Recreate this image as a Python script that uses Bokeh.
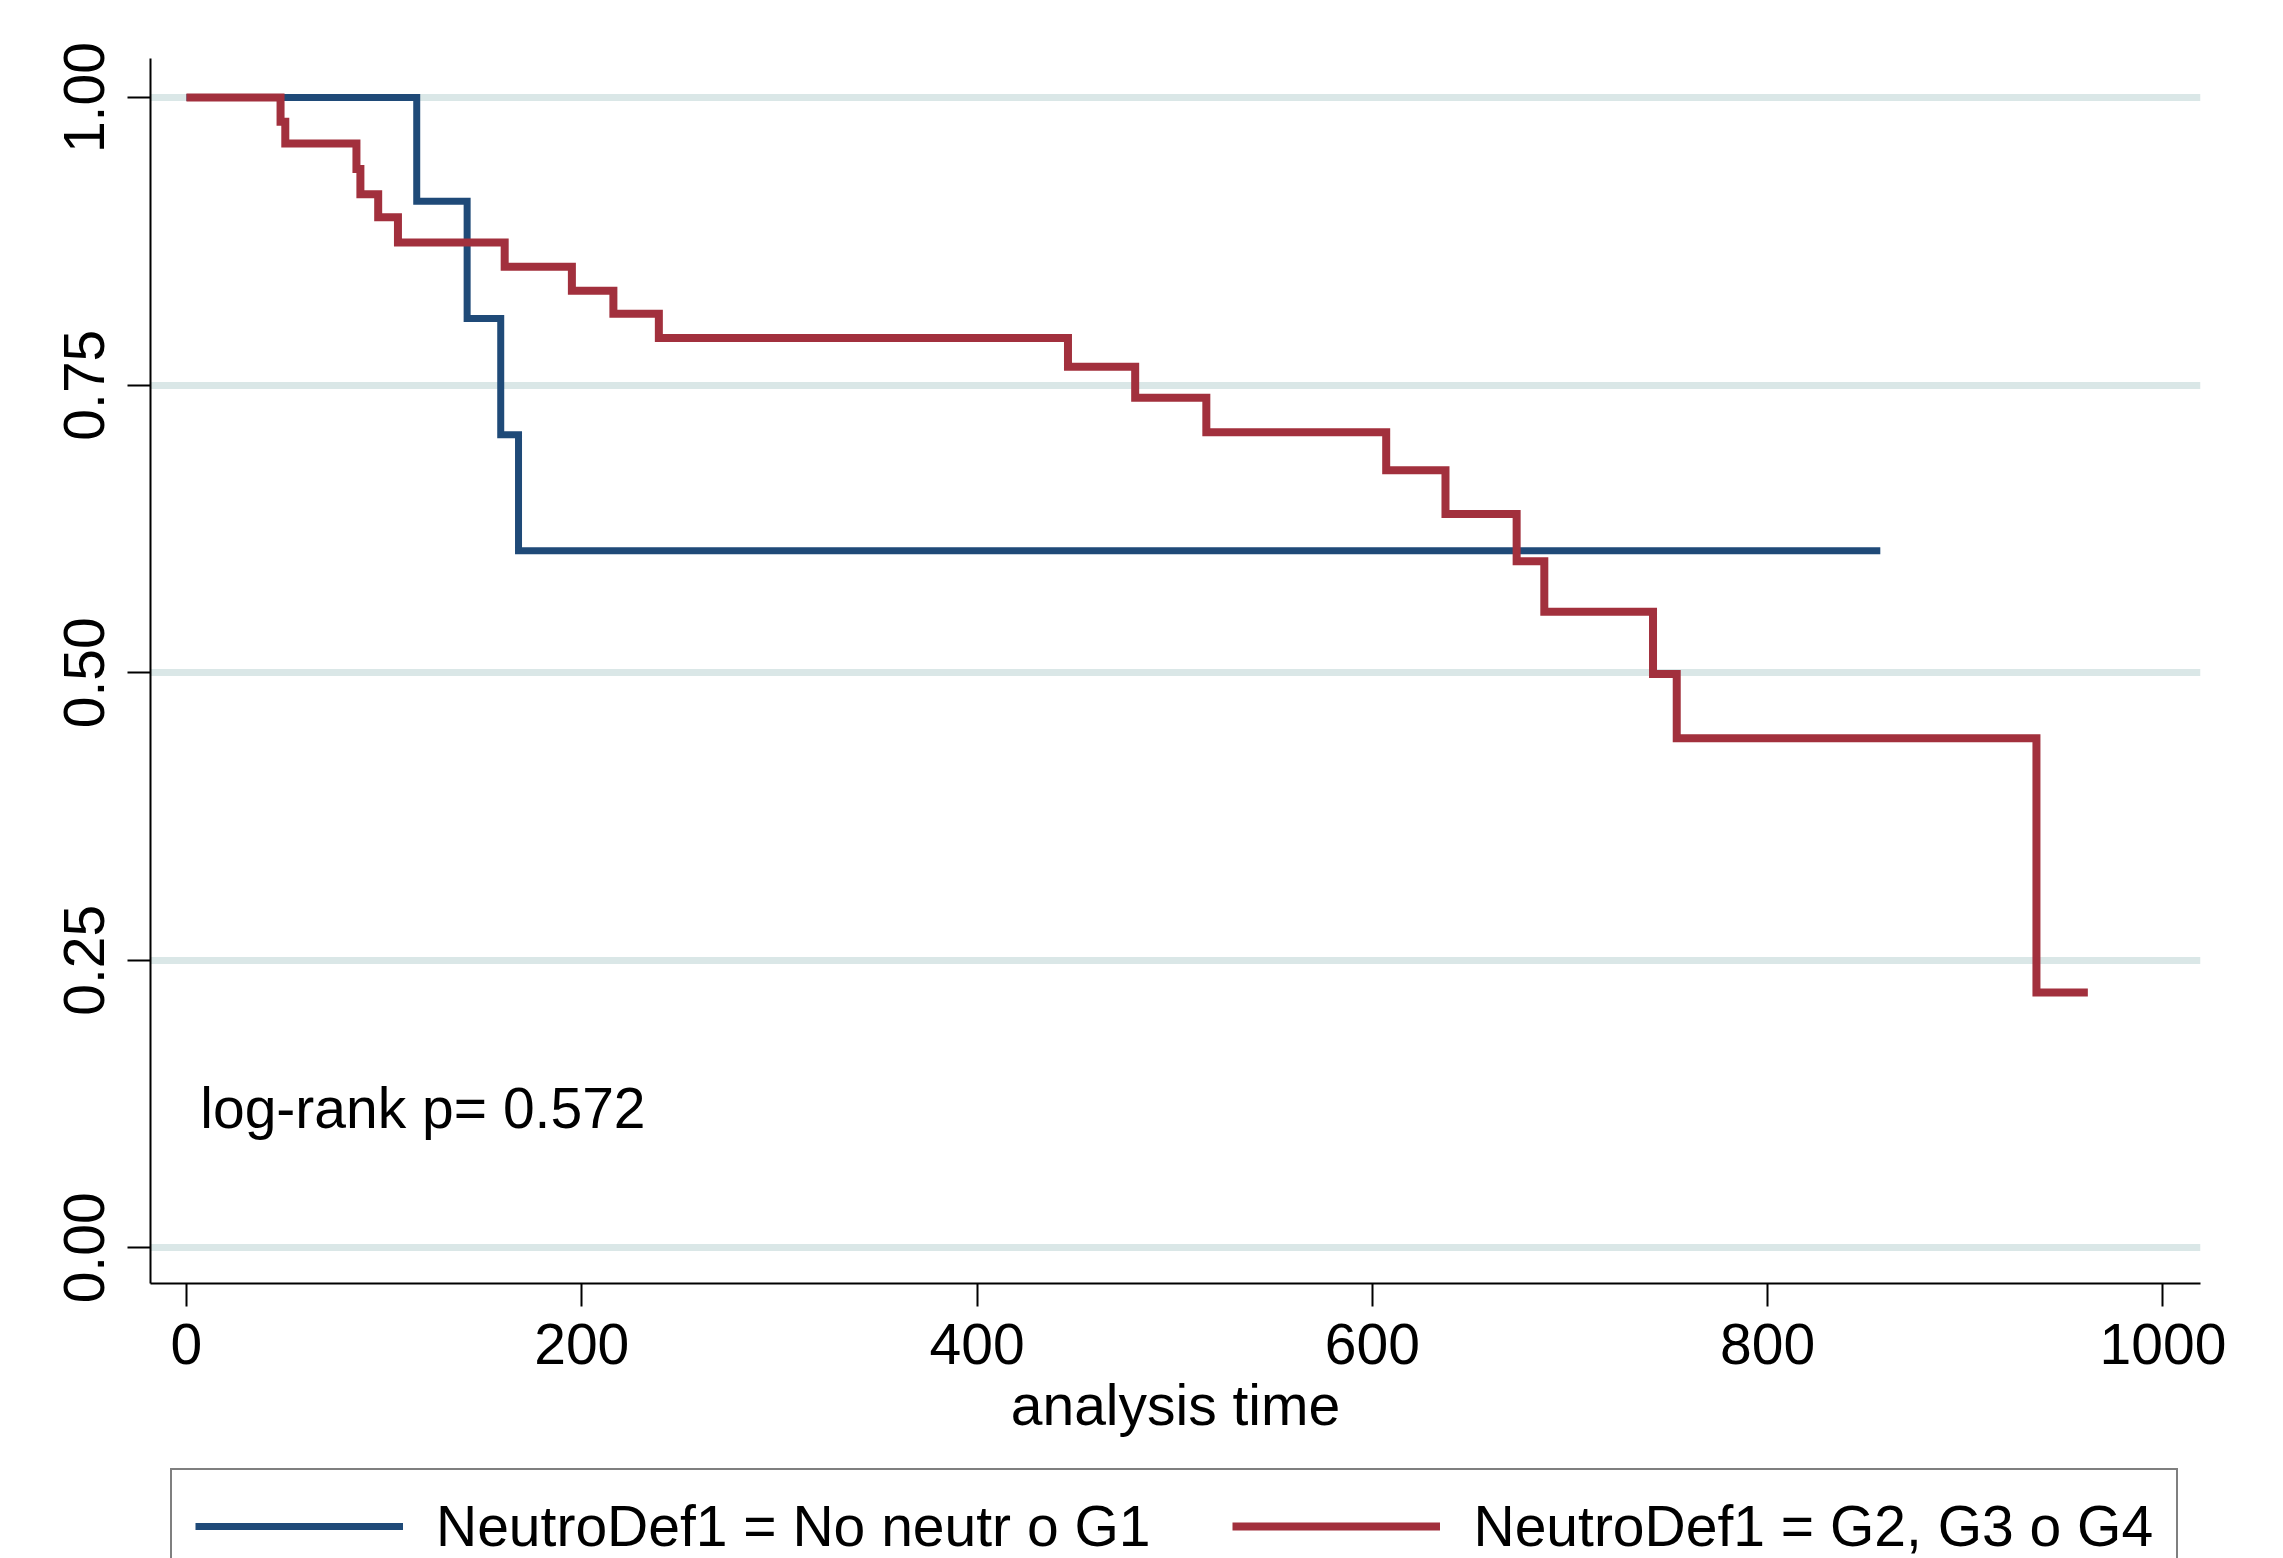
from bokeh.plotting import figure
from bokeh.layouts import column
from bokeh.models import (Range1d, FixedTicker, Legend, LegendItem, Label,
                          NumeralTickFormatter)
from bokeh.embed import file_html
from bokeh.resources import INLINE

# ---- data (Kaplan-Meier step curves) ----
blue_label = "NeutroDef1 = No neutr o G1"
blue_t = [0, 116.5, 142, 159, 168, 857]
blue_s = [1.0, 0.910, 0.808, 0.707, 0.606, 0.606]

red_label = "NeutroDef1 = G2, G3 o G4"
red_t = [0, 47.6, 50, 86, 88, 97, 107, 161, 195, 216, 239,
         446, 480, 516, 607, 637, 673, 687, 742, 754, 936, 962]
red_s = [1.0, 0.979, 0.960, 0.938, 0.916, 0.896, 0.874, 0.853, 0.832, 0.812, 0.791,
         0.766, 0.739, 0.709, 0.676, 0.638, 0.597, 0.553, 0.499, 0.443, 0.222, 0.222]

x_ticks = [0, 200, 400, 600, 800, 1000]
y_ticks = [0.0, 0.25, 0.50, 0.75, 1.0]
x_title = "analysis time"
annot_text = "log-rank p= 0.572"

FONT = "Liberation Sans"
BLUE = "#1f4a78"
RED = "#a2303d"
GRID = "#dae7e7"

W = 2283
H_MAIN = 1464
H_LEG = 1558 - H_MAIN

p = figure(width=W, height=H_MAIN, output_backend="svg", toolbar_location=None,
           x_range=Range1d(-18.2, 1019), y_range=Range1d(-0.031, 1.034),
           min_border_left=150, min_border_right=83, min_border_top=58,
           min_border_bottom=H_MAIN - 1283)
p.outline_line_color = None
p.background_fill_color = "white"
p.border_fill_color = "white"

# grids
p.xgrid.visible = False
p.ygrid.ticker = FixedTicker(ticks=y_ticks)
p.ygrid.grid_line_color = GRID
p.ygrid.grid_line_width = 7

# axes
for ax in (p.xaxis[0], p.yaxis[0]):
    ax.axis_line_color = "black"
    ax.axis_line_width = 2
    ax.major_tick_line_color = "black"
    ax.major_tick_line_width = 2
    ax.major_tick_out = 23
    ax.major_tick_in = 0
    ax.minor_tick_line_color = None
    ax.major_label_text_font = FONT
    ax.major_label_text_font_size = "57px"
    ax.major_label_text_color = "black"
    ax.axis_label_text_font = FONT
    ax.axis_label_text_font_size = "57px"
    ax.axis_label_text_font_style = "normal"
    ax.axis_label_text_color = "black"

p.xaxis[0].ticker = FixedTicker(ticks=x_ticks)
p.xaxis[0].axis_label = x_title
p.xaxis[0].major_label_standoff = 17
p.xaxis[0].axis_label_standoff = 6
p.yaxis[0].ticker = FixedTicker(ticks=y_ticks)
p.yaxis[0].formatter = NumeralTickFormatter(format="0.00")
p.yaxis[0].major_label_orientation = "vertical"
p.yaxis[0].major_label_standoff = 23

# curves
p.step(blue_t, blue_s, mode="after", line_color=BLUE, line_width=7,
       line_join="miter")
p.step(red_t, red_s, mode="after", line_color=RED, line_width=8,
       line_join="miter")

# annotation
p.add_layout(Label(x=7, y=0.122, text=annot_text, text_font=FONT,
                   text_font_size="57px", text_baseline="alphabetic",
                   text_color="black"))

# ---- legend strip below the chart (its lower part is cut by the picture edge) ----
# the same series are drawn here outside the visible range; only their legend keys show
q = figure(width=W, height=H_LEG, output_backend="svg", toolbar_location=None,
           x_axis_location=None, y_axis_location=None,
           x_range=Range1d(-18.2, 1019), y_range=Range1d(5, 6),
           min_border=0, min_border_left=0, min_border_right=0,
           min_border_top=0, min_border_bottom=0)
q.outline_line_color = None
q.xgrid.visible = False
q.ygrid.visible = False
q.background_fill_color = "white"
q.border_fill_color = "white"
kb = q.step(blue_t, blue_s, mode="after", line_color=BLUE, line_width=7)
kr = q.step(red_t, red_s, mode="after", line_color=RED, line_width=8)

LEG_PAD = 23
legend = Legend(items=[LegendItem(label=blue_label, renderers=[kb]),
                       LegendItem(label=red_label, renderers=[kr])],
                orientation="horizontal",
                location=(20, H_LEG - 9 - (2 * LEG_PAD + 65)),
                glyph_width=208, glyph_height=60, label_standoff=33,
                spacing=82, padding=LEG_PAD, margin=0,
                label_text_font=FONT, label_text_font_size="57px",
                label_text_color="black",
                border_line_color="black", border_line_width=2,
                background_fill_color="white", background_fill_alpha=1.0)
q.add_layout(legend, "center")

layout = column(p, q, spacing=0)
open("out.html", "w").write(file_html(layout, INLINE))
